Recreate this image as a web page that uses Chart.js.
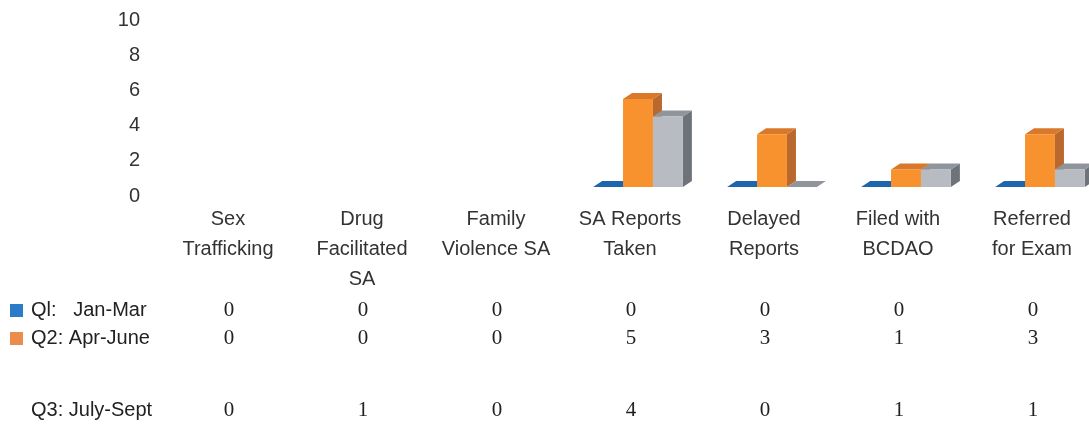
<!DOCTYPE html>
<html>
<head>
<meta charset="utf-8">
<script src="https://cdn.jsdelivr.net/npm/chart.js@4.4.1/dist/chart.umd.min.js"></script>
<style>
  html, body { margin: 0; padding: 0; background: #fff; overflow: hidden; }
  #wrap { width: 1107px; height: 424px; }
</style>
</head>
<body>
<div id="wrap"><canvas id="quarterly" width="1107" height="424"></canvas></div>
<script>
'use strict';

const categories = [
  ['Sex', 'Trafficking'],
  ['Drug', 'Facilitated', 'SA'],
  ['Family', 'Violence SA'],
  ['SA Reports', 'Taken'],
  ['Delayed', 'Reports'],
  ['Filed with', 'BCDAO'],
  ['Referred', 'for Exam']
];
const seriesNames = ['Ql:   Jan-Mar', 'Q2: Apr-June', 'Q3: July-Sept'];

// values printed in the table under the chart
const q1Table = [0, 0, 0, 0, 0, 0, 0];
const q2Table = [0, 0, 0, 5, 3, 1, 3];
const q3Table = [0, 1, 0, 4, 0, 1, 1];

// bars as they appear in the picture (the first three groups show none)
const q1Bars = [null, null, null, 0, 0, 0, 0];
const q2Bars = [null, null, null, 5, 3, 1, 3];
const q3Bars = [null, null, null, 4, 0, 1, 1];

const yTicks = [0, 2, 4, 6, 8, 10];

(function initQuarterlyChart() {
  if (typeof Chart === 'undefined') {
    return;
  }

  const SANS = '"Liberation Sans", Arial, sans-serif';
  const SERIF = '"Liberation Serif", "Times New Roman", serif';
  const LABEL_SHIFT = -8;
  const DEPTH_X = 9;
  const DEPTH_Y = 6;

  const frontColors = ['#1f6bb5', '#f7922e', '#b8bcc2'];
  const sideColors = ['#185a9c', '#b9692e', '#6d7378'];
  const topColors = ['#1d66ad', '#d9782b', '#8f959b'];
  const legendColors = ['#2b7bc9', '#e98c4c'];

  // side and top faces, drawn before the library paints the fronts
  const bar3d = {
    id: 'bar3d',
    beforeDatasetsDraw(chart) {
      const ctx = chart.ctx;
      ctx.save();
      chart.data.datasets.forEach((ds, di) => {
        const meta = chart.getDatasetMeta(di);
        meta.data.forEach((bar, i) => {
          if (ds.data[i] === null) {
            return;
          }
          const { x, y, base, width } = bar.getProps(['x', 'y', 'base', 'width'], true);
          const left = x - width / 2;
          const right = x + width / 2;

          ctx.fillStyle = sideColors[di];
          ctx.beginPath();
          ctx.moveTo(right, y);
          ctx.lineTo(right + DEPTH_X, y - DEPTH_Y);
          ctx.lineTo(right + DEPTH_X, base - DEPTH_Y);
          ctx.lineTo(right, base);
          ctx.closePath();
          ctx.fill();

          ctx.fillStyle = topColors[di];
          ctx.beginPath();
          ctx.moveTo(left, y);
          ctx.lineTo(left + DEPTH_X, y - DEPTH_Y);
          ctx.lineTo(right + DEPTH_X, y - DEPTH_Y);
          ctx.lineTo(right, y);
          ctx.closePath();
          ctx.fill();
        });
      });
      ctx.restore();
    }
  };

  // data table below the category labels
  const dataTable = {
    id: 'dataTable',
    afterDraw(chart) {
      const ctx = chart.ctx;
      const xScale = chart.scales.x;
      const rows = [q1Table, q2Table, q3Table];
      const rowY = [310, 338, 410];
      ctx.save();
      ctx.textBaseline = 'middle';
      rows.forEach((values, r) => {
        if (legendColors[r]) {
          ctx.fillStyle = legendColors[r];
          ctx.fillRect(10, rowY[r] - 6, 13, 13);
        }
        ctx.fillStyle = '#222';
        ctx.textAlign = 'left';
        ctx.font = '20px ' + SANS;
        ctx.fillText(seriesNames[r], 31, rowY[r]);

        ctx.textAlign = 'center';
        ctx.font = '21px ' + SERIF;
        values.forEach((v, i) => {
          ctx.fillText(String(v), xScale.getPixelForValue(i) + LABEL_SHIFT + 1, rowY[r]);
        });
      });
      ctx.restore();
    }
  };

  const canvas = document.getElementById('quarterly');
  new Chart(canvas.getContext('2d'), {
    type: 'bar',
    data: {
      labels: categories,
      datasets: [q1Bars, q2Bars, q3Bars].map((data, di) => ({
        label: seriesNames[di],
        data,
        backgroundColor: frontColors[di],
        borderWidth: 0,
        categoryPercentage: 0.67,
        barPercentage: 1.0
      }))
    },
    options: {
      responsive: false,
      animation: false,
      layout: {
        padding: { left: 0, right: 0, top: 11, bottom: 130 }
      },
      plugins: {
        legend: { display: false },
        tooltip: { enabled: false }
      },
      scales: {
        x: {
          grid: { display: false, drawTicks: false },
          border: { display: false },
          afterFit: scale => {
            scale.height = 107;
          },
          ticks: {
            color: '#333',
            padding: 17,
            labelOffset: LABEL_SHIFT,
            maxRotation: 0,
            autoSkip: false,
            font: { family: SANS, size: 20, lineHeight: 1.5 }
          }
        },
        y: {
          min: 0,
          max: 10,
          grid: { display: false, drawTicks: false },
          border: { display: false },
          afterBuildTicks: scale => {
            scale.ticks = yTicks.map(value => ({ value }));
          },
          afterFit: scale => {
            scale.width = 169;
            scale.paddingTop = 0;
            scale.paddingBottom = 0;
          },
          ticks: {
            color: '#333',
            padding: 29,
            labelOffset: 9,
            autoSkip: false,
            font: { family: SANS, size: 20 }
          }
        }
      }
    },
    plugins: [bar3d, dataTable]
  });
})();
</script>
</body>
</html>
